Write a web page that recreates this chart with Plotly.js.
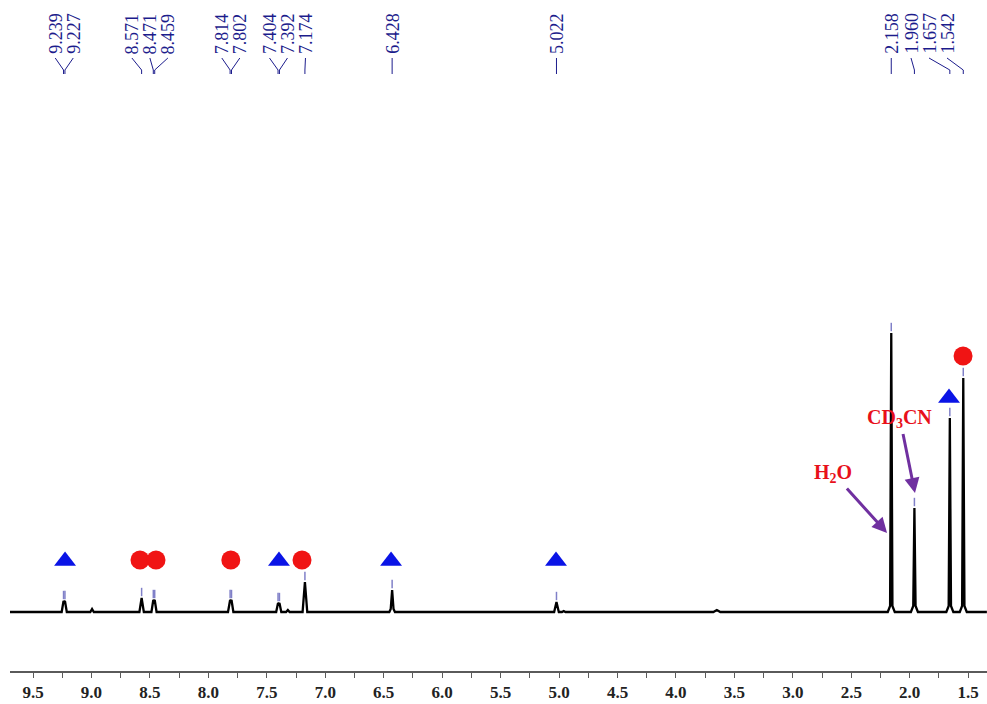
<!DOCTYPE html>
<html><head><meta charset="utf-8">
<script src="https://cdn.plot.ly/plotly-3.0.1.min.js"></script>
<style>html,body{margin:0;padding:0;background:#fff}#chart{width:987px;height:704px}</style>
</head><body><div id="chart"></div>
<script>
// ---- data ----
// spectrum vertices: [shift (ppm), intensity]
const spectrumPoints = [
  [9.70,0],[9.255,0],[9.239,11],[9.233,10],[9.227,11],[9.211,0],
  [9.01,0],[8.995,3],[8.98,0],
  [8.59,0],[8.571,14],[8.552,0],
  [8.487,0],[8.471,12],[8.465,11],[8.459,12],[8.443,0],
  [7.832,0],[7.814,12],[7.808,11],[7.802,12],[7.786,0],
  [7.42,0],[7.404,9],[7.398,8],[7.392,9],[7.376,0],
  [7.335,0],[7.32,2],[7.305,0],
  [7.194,0],[7.174,30],[7.154,0],
  [6.452,0],[6.44,3],[6.428,22],[6.416,3],[6.404,0],
  [5.042,0],[5.022,10],[5.002,0],
  [4.975,0],[4.96,1],[4.945,0],
  [3.68,0],[3.65,2],[3.62,0],
  [2.188,0],[2.168,6],[2.158,279],[2.148,6],[2.128,0],
  [1.99,0],[1.97,6],[1.96,104],[1.95,6],[1.93,0],
  [1.687,0],[1.667,6],[1.657,194],[1.647,6],[1.627,0],
  [1.572,0],[1.552,6],[1.542,234],[1.532,6],[1.512,0],
  [1.34,0]
];
const peakShifts  = [9.239, 9.227, 8.571, 8.471, 8.459, 7.814, 7.802, 7.404, 7.392, 7.174, 6.428, 5.022, 2.158, 1.960, 1.657, 1.542];
const peakHeights = [11, 11, 14, 12, 12, 12, 12, 9, 9, 30, 22, 10, 279, 104, 194, 234];
const triangleShifts  = [9.226, 7.396, 6.437, 5.026, 1.664];
const triangleHeights = [51, 51, 51, 51, 214];
const circleShifts  = [8.585, 8.448, 7.808, 7.199, 1.544];
const circleHeights = [52, 52, 52, 52, 256];
const solventLabels = ['H<sub>2</sub>O', 'CD<sub>3</sub>CN'];
const solventLabelShifts = [2.657, 2.085];
const solventLabelHeights = [139, 194];
const arrowHeadShifts = [2.194, 1.955];
const arrowHeadHeights = [79, 119];
const tickValues = [9.5, 9.0, 8.5, 8.0, 7.5, 7.0, 6.5, 6.0, 5.5, 5.0, 4.5, 4.0, 3.5, 3.0, 2.5, 2.0, 1.5];

// ---- layout constants ----
const W = 987, H = 704;
const M = {l: 10, r: 0, t: 0, b: 33};
const X_LEFT = 9.697, X_RIGHT = 1.339;
const Y_RANGE = [-59, 612];
const plotW = W - M.l - M.r;
const ppmToPx = p => M.l + (X_LEFT - p) / (X_LEFT - X_RIGHT) * plotW;
const pxToPpm = x => X_LEFT - (x - M.l) / plotW * (X_LEFT - X_RIGHT);
const NAVY = '#1c1c8c';
const SERIF = 'Liberation Serif, Times New Roman, serif';

// spread peak labels apart (pixel space)
function spreadLabels(xs, gap, lo, hi) {
  let clusters = xs.map((x, i) => ({start: i, n: 1, sum: x}));
  const left = c => {
    let l = c.sum / c.n - (c.n - 1) * gap / 2;
    l = Math.min(l, hi - (c.n - 1) * gap);
    l = Math.max(l, lo);
    return l;
  };
  let changed = true;
  while (changed) {
    changed = false;
    for (let i = 0; i < clusters.length - 1; i++) {
      const a = clusters[i], b = clusters[i + 1];
      if (left(a) + a.n * gap > left(b)) {
        clusters.splice(i, 2, {start: a.start, n: a.n + b.n, sum: a.sum + b.sum});
        changed = true; break;
      }
    }
  }
  const out = [];
  clusters.forEach(c => { const l = left(c); for (let k = 0; k < c.n; k++) out.push(l + k * gap); });
  return out;
}

const peakPx = peakShifts.map(ppmToPx);
const labelPx = spreadLabels(peakPx, 18, 20, 947);

const annotations = [];
const shapes = [];
const yOfPx = py => Y_RANGE[1] - py;  // data units = px above baseline

peakShifts.forEach((s, i) => {
  annotations.push({
    x: pxToPpm(labelPx[i]), xref: 'x', y: yOfPx(56), yref: 'y',
    text: s.toFixed(3), textangle: -90, showarrow: false,
    xanchor: 'center', yanchor: 'bottom',
    font: {family: SERIF, size: 18, color: NAVY}
  });
  shapes.push({type: 'line', xref: 'x', yref: 'y',
    x0: pxToPpm(labelPx[i]), y0: yOfPx(58), x1: s, y1: yOfPx(70),
    line: {color: NAVY, width: 1}});
  shapes.push({type: 'line', xref: 'x', yref: 'y',
    x0: s, y0: yOfPx(70), x1: s, y1: yOfPx(74),
    line: {color: NAVY, width: 1}});
});

// solvent labels with arrows pointing to their peaks
solventLabels.forEach((t, i) => {
  annotations.push({
    x: arrowHeadShifts[i], y: arrowHeadHeights[i], xref: 'x', yref: 'y',
    ax: solventLabelShifts[i], ay: solventLabelHeights[i], axref: 'x', ayref: 'y',
    text: t, showarrow: true, arrowhead: 2, arrowsize: 1, arrowwidth: 3,
    arrowcolor: '#7030a0', standoff: 0, startstandoff: 2,
    font: {family: SERIF, size: 20, color: '#e8101a', weight: 'bold'}
  });
});

const traces = [
  {
    x: spectrumPoints.map(p => p[0]), y: spectrumPoints.map(p => p[1]),
    type: 'scatter', mode: 'lines', line: {color: '#000', width: 2.3},
    hoverinfo: 'skip'
  },
  {
    x: peakShifts, y: peakHeights.map(h => h + 6),
    type: 'scatter', mode: 'markers',
    marker: {symbol: 'line-ns-open', size: 6, color: '#8080c8', line: {color: '#8080c8', width: 1.5}},
    hoverinfo: 'skip'
  },
  {
    x: triangleShifts, y: triangleHeights, type: 'scatter', mode: 'markers',
    marker: {symbol: 'triangle-up', size: 19, color: '#0a14e6'}, hoverinfo: 'skip'
  },
  {
    x: circleShifts, y: circleHeights, type: 'scatter', mode: 'markers',
    marker: {symbol: 'circle', size: 19, color: '#f01414'}, hoverinfo: 'skip'
  }
];

const layout = {
  width: W, height: H, margin: M,
  paper_bgcolor: '#fff', plot_bgcolor: '#fff', showlegend: false,
  xaxis: {
    range: [X_LEFT, X_RIGHT], showgrid: false, zeroline: false,
    showline: true, linecolor: '#5a5a5a', linewidth: 1.5,
    tickmode: 'array', tickvals: tickValues, ticktext: tickValues.map(v => v.toFixed(1)),
    ticks: 'outside', ticklen: 5, tickcolor: '#5a5a5a', tickwidth: 1,
    minor: {dtick: 0.25, tick0: 0, ticks: 'outside', ticklen: 5, tickcolor: '#5a5a5a', tickwidth: 1},
    tickfont: {family: SERIF, size: 17, color: '#222', weight: 'bold'},
    fixedrange: true
  },
  yaxis: {range: Y_RANGE, visible: false, fixedrange: true},
  annotations: annotations,
  shapes: shapes
};

Plotly.newPlot('chart', traces, layout, {staticPlot: true});
</script>
</body></html>
